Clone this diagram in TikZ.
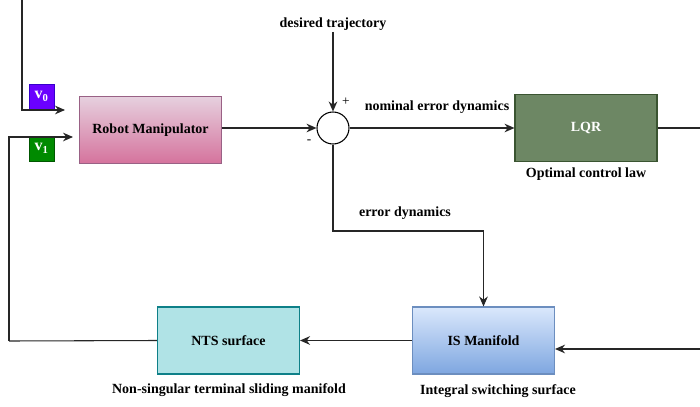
\documentclass[tikz,border=0pt]{standalone}
\usepackage{fontspec}
\setmainfont{Liberation Serif}
\usepackage{xcolor}
\usetikzlibrary{arrows.meta,positioning,calc}
\definecolor{pinktop}{HTML}{E6D0DE}
\definecolor{pinkbot}{HTML}{D5739D}
\definecolor{pinkline}{HTML}{996185}
\definecolor{bluetop}{HTML}{DAE8FC}
\definecolor{bluebot}{HTML}{7EA6E0}
\definecolor{blueline}{HTML}{6C8EBF}
\definecolor{tealfill}{HTML}{B0E3E6}
\definecolor{tealline}{HTML}{0E8088}
\definecolor{olivefill}{HTML}{6D8764}
\definecolor{oliveline}{HTML}{3A5431}
\definecolor{violetfill}{HTML}{6A00FF}
\definecolor{violetline}{HTML}{3700CC}
\definecolor{greenfill}{HTML}{008A00}
\definecolor{greenline}{HTML}{005700}
\tikzset{
  block/.style={draw, thick, align=center, font=\fontsize{10.5}{12.6}\selectfont\bfseries, minimum width=106.5pt, minimum height=50.25pt, inner sep=0pt},
  tag/.style={draw, thin, font=\fontsize{12}{14}\selectfont\bfseries, text=white, minimum size=18.75pt, inner sep=0pt},
  caption/.style={font=\fontsize{10.5}{12.6}\selectfont\bfseries, inner sep=1pt},
  summer/.style={draw, thick, circle, minimum size=24pt, inner sep=0pt, fill=white},
  line/.style={-{Stealth[length=7.5pt, width=6.5pt]}, thick, black!85},
  wire/.style={thick, black!85}
}
\begin{document}
\begin{tikzpicture}[x=0.75pt, y=-0.75pt]
  \path[use as bounding box, fill=white] (0,0) rectangle (700,407);

  \node[block, top color=pinktop, bottom color=pinkbot, draw=pinkline] (rm) at (150.5,130) {Robot Manipulator};
  \node[summer] (sum) at (333,128) {};
  \node[block, fill=olivefill, draw=oliveline, text=white] (lqr) at (586,128) {LQR};
  \node[block, top color=bluetop, bottom color=bluebot, draw=blueline] (is) at (483.5,340.5) {IS Manifold};
  \node[block, fill=tealfill, draw=tealline] (nts) at (228.5,340.5) {NTS surface};

  \node[tag, fill=violetfill, draw=violetline] (vzero) at (41.5,96.5) {v\textsubscript{0}};
  \node[tag, fill=greenfill, draw=greenline] (vone) at (41.5,148.5) {v\textsubscript{1}};

  \node[caption] (des) at (333,24) {desired trajectory};
  \node[caption] (nom) at (437,107) {nominal error dynamics};
  \node[caption] (err) at (405,213) {error dynamics};
  \node[caption, below=3pt of lqr] (opt) {Optimal control law};
  \node[caption] (ntslbl) at (229,390) {Non-singular terminal sliding manifold};
  \node[caption] (islbl) at (498,391) {Integral switching surface};
  \node (plus) at (346,102) {+};
  \node (minus) at (309,142) {-};

  \coordinate (topin) at (22,0);
  \coordinate (vzeroend) at (65,110);
  \coordinate (vonestart) at (9,341);
  \coordinate (voneend) at (73,137);
  \coordinate (lqrout) at (700,128);
  \coordinate (edturn) at (483.5,231);
  \coordinate (isin) at (700,349);

  \draw[line] (topin) |- (vzeroend);
  \draw[wire] (nts.west) -- (vonestart);
  \draw[line] (vonestart) |- (voneend);
  \draw[line] (des.south) -- (sum.north);
  \draw[line] (rm.east |- sum.west) -- (sum.west);
  \draw[line] (sum.east) -- (lqr.west);
  \draw[wire] (lqr.east) -- (lqrout);
  \draw[line] (sum.south) |- (edturn) -- (is.north);
  \draw[line] (isin) -- (isin -| is.east);
  \draw[line] (is.west) -- (nts.east);
\end{tikzpicture}
\end{document}
